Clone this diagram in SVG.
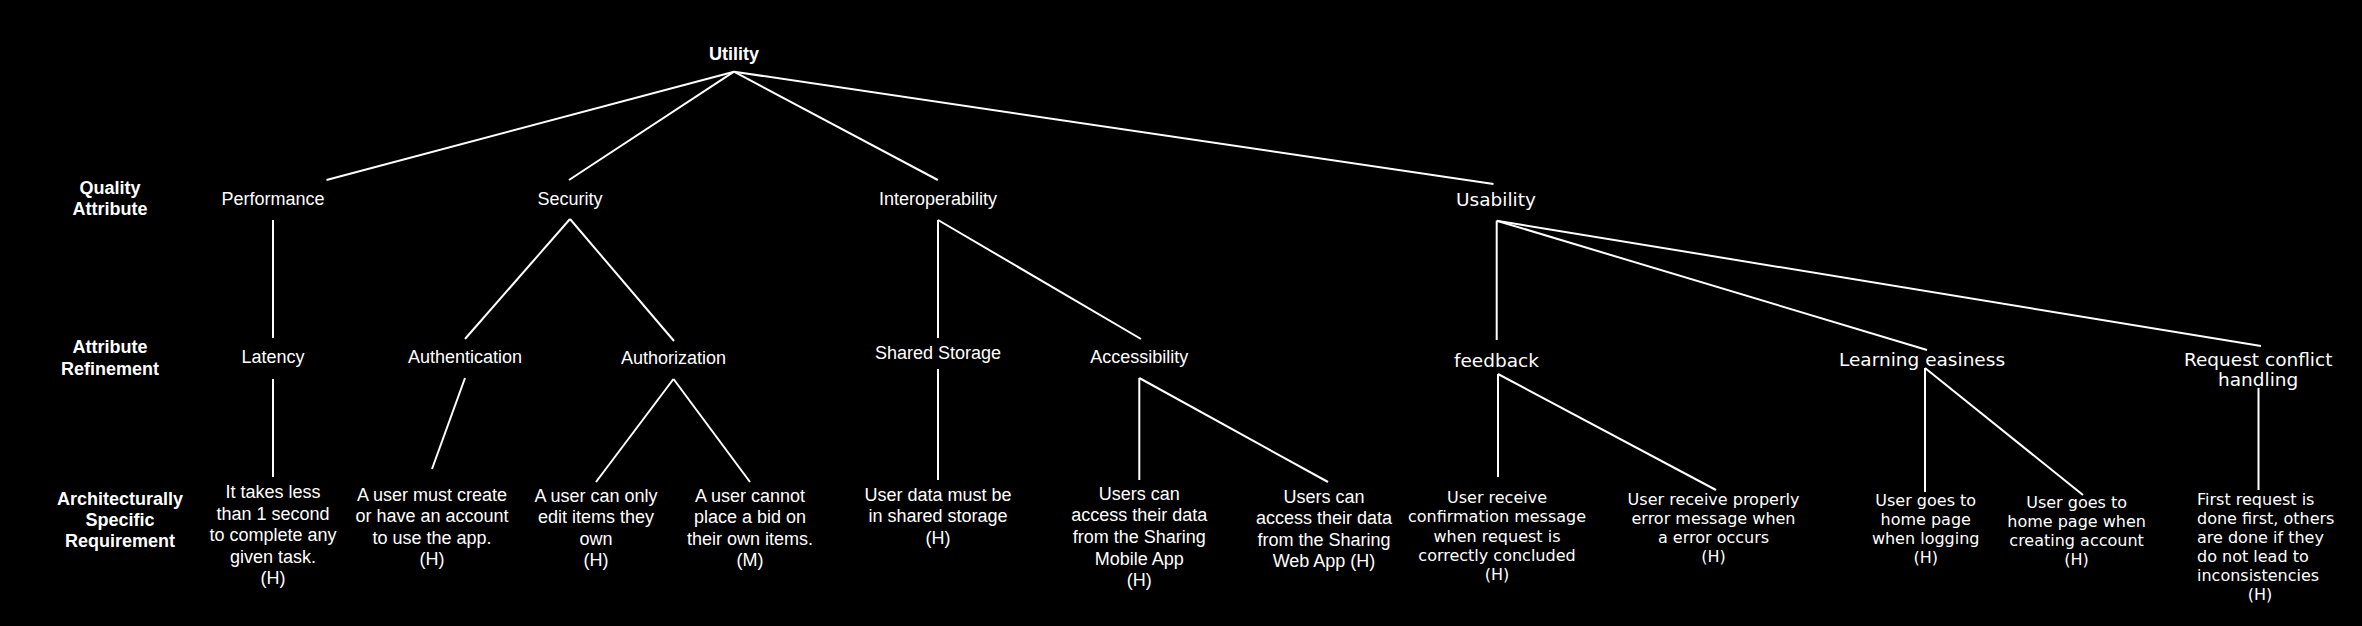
<svg xmlns="http://www.w3.org/2000/svg" width="2362" height="626" viewBox="0 0 2362 626">
<style>
.bg{fill:#000}
text{fill:#fff;text-anchor:middle}
.l{font-family:"Liberation Sans",Arial,sans-serif;font-size:18px}
.b{font-family:"Liberation Sans",Arial,sans-serif;font-size:18px;font-weight:bold}
.d{font-family:"DejaVu Sans",sans-serif;font-size:18.5px}
.s{font-family:"DejaVu Sans",sans-serif;font-size:16px}
.left{text-anchor:start}
#connectors line{stroke:#fff;stroke-width:2;fill:none}
</style>
<rect class="bg" x="0" y="0" width="2362" height="626"/>
<g id="row-labels">
<text class="b" x="110"><tspan x="110" y="193.5">Quality</tspan><tspan x="110" y="214.5">Attribute</tspan></text>
<text class="b" x="110"><tspan x="110" y="353">Attribute</tspan><tspan x="110" y="375">Refinement</tspan></text>
<text class="b" x="120"><tspan x="120" y="504.5">Architecturally</tspan><tspan x="120" y="525.5">Specific</tspan><tspan x="120" y="546.5">Requirement</tspan></text>
</g>
<g id="connectors">
<line x1="734" y1="71.7" x2="326.5" y2="180"/>
<line x1="734" y1="71.7" x2="569" y2="180"/>
<line x1="734" y1="71.7" x2="937.8" y2="180"/>
<line x1="734" y1="71.7" x2="1493.5" y2="184"/>
<line x1="273" y1="220" x2="273" y2="338"/>
<line x1="570" y1="219" x2="465" y2="339"/>
<line x1="570" y1="219" x2="674" y2="341"/>
<line x1="938" y1="220" x2="938" y2="338"/>
<line x1="938" y1="220" x2="1141" y2="339"/>
<line x1="1496.7" y1="220.7" x2="1496.7" y2="340"/>
<line x1="1496.7" y1="220.7" x2="1927" y2="350"/>
<line x1="1496.7" y1="220.7" x2="2261" y2="346"/>
<line x1="273" y1="379" x2="273" y2="477"/>
<line x1="465" y1="378" x2="432" y2="469"/>
<line x1="673.5" y1="379" x2="596" y2="482"/>
<line x1="673.5" y1="379" x2="750" y2="482"/>
<line x1="938" y1="369" x2="938" y2="480"/>
<line x1="1139.3" y1="378" x2="1139.3" y2="480"/>
<line x1="1139.3" y1="378" x2="1328" y2="482"/>
<line x1="1498" y1="374" x2="1498" y2="477"/>
<line x1="1498" y1="374" x2="1716" y2="490"/>
<line x1="1925" y1="368" x2="1925" y2="492"/>
<line x1="1925" y1="368" x2="2083" y2="495"/>
<line x1="2258.5" y1="388" x2="2258.5" y2="490"/>
</g>
<g id="utility"><text class="b" x="734" y="60">Utility</text></g>
<g id="performance"><text class="l" x="273" y="204.5">Performance</text></g>
<g id="security"><text class="l" x="570" y="204.5">Security</text></g>
<g id="interoperability"><text class="l" x="938" y="204.5">Interoperability</text></g>
<g id="usability"><text class="d" x="1496" y="205.7">Usability</text></g>
<g id="latency"><text class="l" x="273" y="363">Latency</text></g>
<g id="authentication"><text class="l" x="465" y="363">Authentication</text></g>
<g id="authorization"><text class="l" x="673.5" y="364">Authorization</text></g>
<g id="shared-storage"><text class="l" x="938" y="359">Shared Storage</text></g>
<g id="accessibility"><text class="l" x="1139.3" y="363">Accessibility</text></g>
<g id="feedback"><text class="d" x="1496.4" y="366.5">feedback</text></g>
<g id="learning-easiness"><text class="d" x="1922" y="366">Learning easiness</text></g>
<g id="request-conflict"><text class="d" x="2258.2"><tspan x="2258.2" y="366">Request conflict</tspan><tspan x="2258.2" y="385.5">handling</tspan></text></g>
<g id="req-latency"><text class="l"><tspan x="273" y="498">It takes less</tspan><tspan x="273" y="519.6">than 1 second</tspan><tspan x="273" y="541.2">to complete any</tspan><tspan x="273" y="562.8">given task.</tspan><tspan x="273" y="584.4">(H)</tspan></text></g>
<g id="req-authentication"><text class="l"><tspan x="432" y="500.5">A user must create</tspan><tspan x="432" y="522.1">or have an account</tspan><tspan x="432" y="543.7">to use the app.</tspan><tspan x="432" y="565.3">(H)</tspan></text></g>
<g id="req-authorization-1"><text class="l"><tspan x="596" y="501.5">A user can only</tspan><tspan x="596" y="523.1">edit items they</tspan><tspan x="596" y="544.7">own</tspan><tspan x="596" y="566.3">(H)</tspan></text></g>
<g id="req-authorization-2"><text class="l"><tspan x="750" y="501.5">A user cannot</tspan><tspan x="750" y="523.1">place a bid on</tspan><tspan x="750" y="544.7">their own items.</tspan><tspan x="750" y="566.3">(M)</tspan></text></g>
<g id="req-shared-storage"><text class="l"><tspan x="938" y="500.8">User data must be</tspan><tspan x="938" y="522.4">in shared storage</tspan><tspan x="938" y="544">(H)</tspan></text></g>
<g id="req-accessibility-1"><text class="l"><tspan x="1139.3" y="499.8">Users can</tspan><tspan x="1139.3" y="521.4">access their data</tspan><tspan x="1139.3" y="543">from the Sharing</tspan><tspan x="1139.3" y="564.6">Mobile App</tspan><tspan x="1139.3" y="586.2">(H)</tspan></text></g>
<g id="req-accessibility-2"><text class="l"><tspan x="1324" y="502.5">Users can</tspan><tspan x="1324" y="524.1">access their data</tspan><tspan x="1324" y="545.7">from the Sharing</tspan><tspan x="1324" y="567.3">Web App (H)</tspan></text></g>
<g id="req-feedback-1"><text class="s"><tspan x="1497" y="503">User receive</tspan><tspan x="1497" y="522.3">confirmation message</tspan><tspan x="1497" y="541.6">when request is</tspan><tspan x="1497" y="560.9">correctly concluded</tspan><tspan x="1497" y="580.2">(H)</tspan></text></g>
<g id="req-feedback-2"><text class="s"><tspan x="1713.5" y="505">User receive properly</tspan><tspan x="1713.5" y="524">error message when</tspan><tspan x="1713.5" y="543">a error occurs</tspan><tspan x="1713.5" y="562">(H)</tspan></text></g>
<g id="req-learning-1"><text class="s"><tspan x="1925.7" y="506">User goes to</tspan><tspan x="1925.7" y="525">home page</tspan><tspan x="1925.7" y="544">when logging</tspan><tspan x="1925.7" y="563">(H)</tspan></text></g>
<g id="req-learning-2"><text class="s"><tspan x="2076.6" y="507.5">User goes to</tspan><tspan x="2076.6" y="526.5">home page when</tspan><tspan x="2076.6" y="545.5">creating account</tspan><tspan x="2076.6" y="564.5">(H)</tspan></text></g>
<g id="req-request-conflict"><text class="s left"><tspan x="2197" y="505">First request is</tspan><tspan x="2197" y="524">done first, others</tspan><tspan x="2197" y="543">are done if they</tspan><tspan x="2197" y="562">do not lead to</tspan><tspan x="2197" y="581">inconsistencies</tspan></text><text class="s" x="2260" y="600">(H)</text></g>
</svg>
